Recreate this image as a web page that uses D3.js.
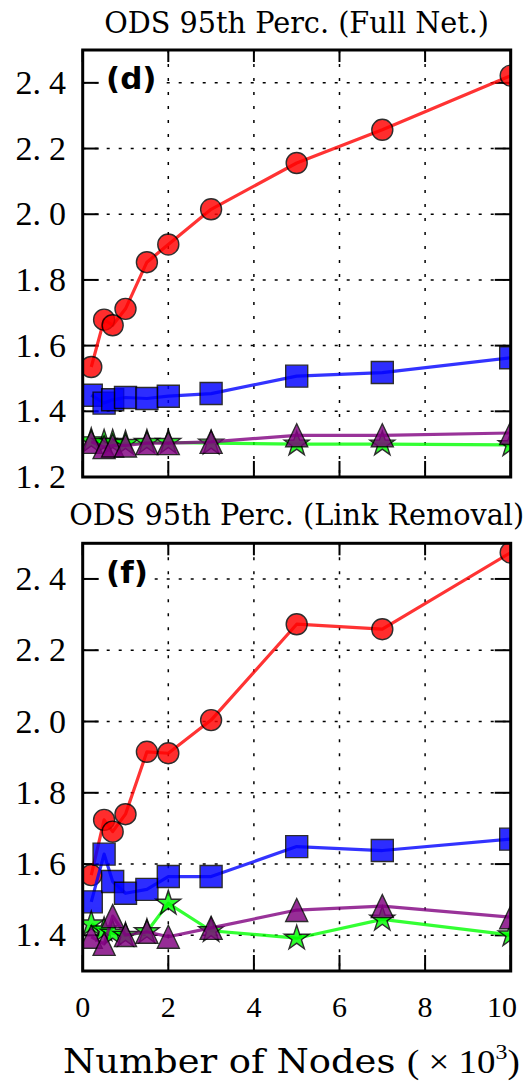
<!DOCTYPE html>
<html><head><meta charset="utf-8">
<script src="https://cdn.jsdelivr.net/npm/d3@7"></script>
<style>body{margin:0;background:#fff} svg{display:block}</style>
</head><body>
<svg id="c" width="524" height="1083"></svg>
<script>
// ---- data ----
const xValues = [0.2, 0.5, 0.7, 1, 1.5, 2, 3, 5, 7, 10];
const redFull    = [1.535, 1.679, 1.662, 1.712, 1.854, 1.908, 2.015, 2.156, 2.257, 2.422];
const blueFull   = [1.449, 1.425, 1.435, 1.442, 1.439, 1.446, 1.454, 1.507, 1.518, 1.563];
const greenFull  = [1.310, 1.305, 1.305, 1.302, 1.305, 1.305, 1.303, 1.300, 1.300, 1.298];
const purpleFull = [1.307, 1.291, 1.296, 1.296, 1.303, 1.303, 1.307, 1.327, 1.327, 1.334];
const redLink    = [1.569, 1.724, 1.691, 1.740, 1.915, 1.911, 2.004, 2.273, 2.259, 2.474];
const blueLink   = [1.494, 1.628, 1.551, 1.518, 1.529, 1.565, 1.565, 1.649, 1.638, 1.670];
const greenLink  = [1.432, 1.415, 1.406, 1.400, 1.410, 1.490, 1.413, 1.392, 1.445, 1.401];
const purpleLink = [1.396, 1.376, 1.454, 1.401, 1.410, 1.396, 1.421, 1.471, 1.482, 1.451];
const xTicks = [0, 2, 4, 6, 8, 10];
const yTicksFull = [1.2, 1.4, 1.6, 1.8, 2.0, 2.2, 2.4];
const yTicksLink = [1.4, 1.6, 1.8, 2.0, 2.2, 2.4];
const titles = ["ODS 95th Perc. (Full Net.)", "ODS 95th Perc. (Link Removal)"];
const panelLetters = ["(d)", "(f)"];
const xLabelText = "Number of Nodes";

// ---- layout ----
const SERIF_M = "'Liberation Serif', 'Times New Roman', Times, 'DejaVu Serif', serif";
const svg = d3.select("#c");
const left = 82.7, right = 510.7;
const panels = [
  {top: 50, bottom: 477, yDom: [1.2, 2.5], yTicks: yTicksFull, title: titles[0], letter: panelLetters[0],
   series: [redFull, blueFull, greenFull, purpleFull], showX: false, titleY: 33, letterY: 89},
  {top: 543.3, bottom: 971, yDom: [1.3, 2.5], yTicks: yTicksLink, title: titles[1], letter: panelLetters[1],
   series: [redLink, blueLink, greenLink, purpleLink], showX: true, titleY: 525, letterY: 583}
];
const styles = [
  {color: "#ff0000", marker: "circle"},
  {color: "#0000ff", marker: "square"},
  {color: "#00ff00", marker: "star"},
  {color: "#800080", marker: "triangle"}
];
const x = d3.scaleLinear().domain([0, 10]).range([left, right]);

function starPath(R) {
  const r = R * 0.382; let p = [];
  for (let i = 0; i < 10; i++) {
    const a = -Math.PI / 2 + i * Math.PI / 5;
    const rr = i % 2 === 0 ? R : r;
    p.push([rr * Math.cos(a), rr * Math.sin(a)]);
  }
  return "M" + p.map(d => d.join(",")).join("L") + "Z";
}
function markerPath(m) {
  if (m === "circle") return d3.symbol(d3.symbolCircle, Math.PI * 10.5 * 10.5)();
  if (m === "square") return "M-11,-11H11V11H-11Z";
  if (m === "triangle") return "M0,-11.5L11,11.5L-11,11.5Z";
  return starPath(13);
}

const titleNodes = [];
panels.forEach((P, pi) => {
  const y = d3.scaleLinear().domain(P.yDom).range([P.bottom, P.top]);
  const g = svg.append("g");
  const cid = "clip" + pi;
  svg.append("defs").append("clipPath").attr("id", cid)
    .append("rect").attr("x", left).attr("y", P.top).attr("width", right - left).attr("height", P.bottom - P.top);

  // grid
  g.selectAll(".gx").data(xTicks.filter(t => t > 0 && t < 10)).enter().append("line")
    .attr("x1", d => x(d)).attr("x2", d => x(d)).attr("y1", P.top).attr("y2", P.bottom)
    .attr("stroke", "#000").attr("stroke-width", 1.5).attr("stroke-dasharray", "3,11");
  g.selectAll(".gy").data(P.yTicks).enter().append("line")
    .attr("x1", left).attr("x2", right).attr("y1", d => y(d)).attr("y2", d => y(d))
    .attr("stroke", "#000").attr("stroke-width", 1.5).attr("stroke-dasharray", "3,9");

  // ticks (inward, all four sides)
  const tl = 16;
  xTicks.forEach(t => {
    g.append("line").attr("x1", x(t)).attr("x2", x(t)).attr("y1", P.bottom).attr("y2", P.bottom - tl).attr("stroke", "#000").attr("stroke-width", 2);
    g.append("line").attr("x1", x(t)).attr("x2", x(t)).attr("y1", P.top).attr("y2", P.top + 12).attr("stroke", "#000").attr("stroke-width", 2);
  });
  P.yTicks.forEach(t => {
    g.append("line").attr("x1", left).attr("x2", left + tl).attr("y1", y(t)).attr("y2", y(t)).attr("stroke", "#000").attr("stroke-width", 2);
    g.append("line").attr("x1", right).attr("x2", right - tl).attr("y1", y(t)).attr("y2", y(t)).attr("stroke", "#000").attr("stroke-width", 2);
  });

  // panel letter with white background (as in a matplotlib text box)
  const lt = g.append("text").attr("x", 106).attr("y", P.letterY).attr("font-family", "'DejaVu Sans', sans-serif")
    .attr("font-weight", "bold").attr("font-size", 31).text(P.letter);
  const bb = lt.node().getBBox();
  g.insert("rect", "text").attr("x", bb.x - 3).attr("y", bb.y).attr("width", bb.width + 6).attr("height", bb.height)
    .attr("fill", "#fff");

  // series
  const sg = g.append("g").attr("clip-path", `url(#${cid})`);
  P.series.forEach((vals, si) => {
    const st = styles[si];
    const pts = xValues.map((xv, i) => [xv, vals[i]]);
    sg.append("path").datum(pts)
      .attr("d", d3.line().x(d => x(d[0])).y(d => y(d[1])))
      .attr("fill", "none").attr("stroke", st.color).attr("stroke-width", 3.2)
      .attr("stroke-opacity", 0.8).attr("stroke-linejoin", "round");
    sg.selectAll(".m" + si).data(pts).enter().append("path")
      .attr("d", markerPath(st.marker))
      .attr("transform", d => `translate(${x(d[0])},${y(d[1])})`)
      .attr("fill", st.color).attr("stroke", "#000").attr("stroke-width", 1.4)
      .attr("opacity", 0.82);
  });

  // frame
  g.append("rect").attr("x", left).attr("y", P.top).attr("width", right - left).attr("height", P.bottom - P.top)
    .attr("fill", "none").attr("stroke", "#000").attr("stroke-width", 3);

  // y tick labels
  P.yTicks.forEach(t => {
    const s = t.toFixed(1).split(".");
    const tx = g.append("text").attr("x", 66).attr("y", y(t) + 11)
      .attr("text-anchor", "end").attr("font-family", SERIF_M).attr("font-size", 34);
    tx.append("tspan").text(s[0] + ".");
    tx.append("tspan").attr("dx", 8).text(s[1]);
  });
  // x tick labels
  if (P.showX) {
    xTicks.forEach(t => {
      const lb = g.append("text").attr("x", x(t)).attr("y", 1017).attr("text-anchor", "middle")
        .attr("font-family", SERIF_M).attr("font-size", 30).text(t);
      const b = lb.node().getBBox();
      if (b.x + b.width > 517) lb.attr("x", x(t) - (b.x + b.width - 517));
    });
  }
  // title
  const tt = svg.append("text").attr("font-family", "'DejaVu Serif', serif").attr("font-size", 29)
    .attr("text-anchor", "middle").text(P.title);
  titleNodes.push({node: tt, y: P.titleY});
});

// compress titles horizontally to match
const w0 = titleNodes[0].node.node().getComputedTextLength();
const sx = 385 / w0;
const cx = (left + right) / 2;
titleNodes.forEach(t => {
  t.node.attr("transform", `translate(${cx},${t.y}) scale(${sx},1)`);
});

// x axis label
const xl = svg.append("text").attr("font-family", "'DejaVu Serif', serif").attr("font-size", 34);
xl.append("tspan").text(xLabelText + " ");
xl.append("tspan").attr("font-family", SERIF_M).text("( \u00d7 10");
xl.append("tspan").attr("font-family", SERIF_M).attr("font-size", 22).attr("dy", -14).text("3");
xl.append("tspan").attr("font-family", SERIF_M).attr("dy", 14).text(")");
const wl = xl.node().getComputedTextLength();
const sxl = 457 / wl;
xl.attr("transform", `translate(63,1073) scale(${sxl},1)`);
</script>
</body></html>
